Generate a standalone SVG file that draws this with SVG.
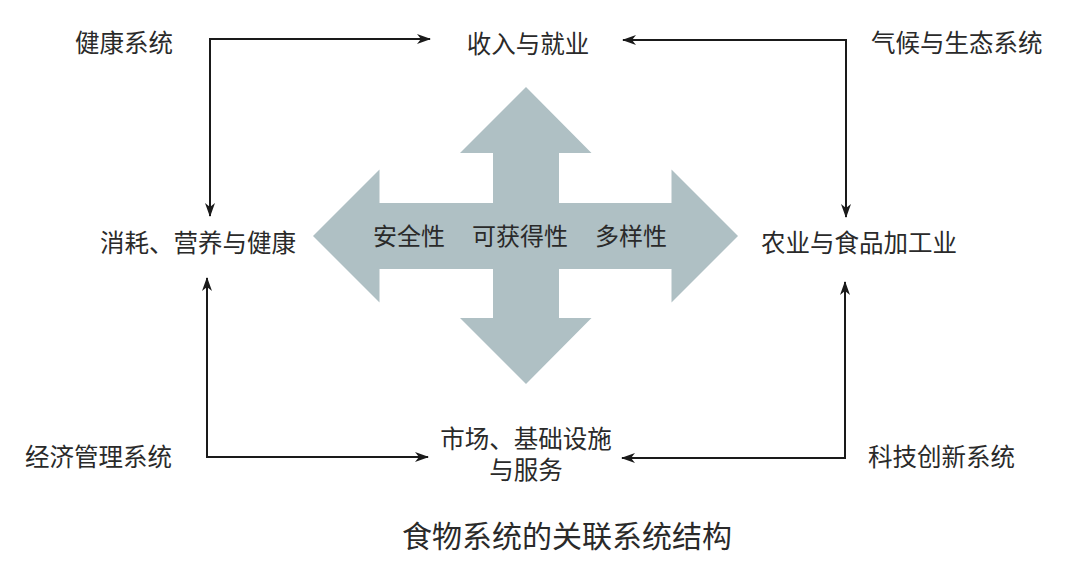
<svg xmlns="http://www.w3.org/2000/svg" width="1080" height="568" viewBox="0 0 1080 568">
<style>
text{font-family:"Noto Sans CJK SC","Noto Sans",sans-serif;font-size:24.5px;fill:#2a2a2a}
.m{text-anchor:middle}
.conn{fill:none;stroke:#1a1a1a;stroke-width:2}
</style>
<defs>
<marker id="ah" viewBox="0 0 14 10" refX="13" refY="5" markerWidth="14" markerHeight="10" markerUnits="userSpaceOnUse" orient="auto-start-reverse">
<path d="M0,0 L14,5 L0,10 L4,5 z" fill="#1a1a1a"/>
</marker>
</defs>
<rect width="1080" height="568" fill="#ffffff"/>
<g id="cross">
<polygon fill="#afc0c4" points="526,87 591.5,153 559,153 559,203 671.5,203 671.5,169.5 738,236 671.5,302.5 671.5,269 559,269 559,318 591.5,318 526,384 460,318 493,318 493,269 379.5,269 379.5,302.5 313,236 379.5,169.5 379.5,203 493,203 493,153 460,153"/>
<text x="409" y="245" class="m" style="font-size:24px">安全性</text>
<text x="520" y="245" class="m" style="font-size:24px">可获得性</text>
<text x="631" y="245" class="m" style="font-size:24px">多样性</text>
</g>
<g id="connectors">
<path class="conn" d="M430,39 H210 V216" marker-start="url(#ah)" marker-end="url(#ah)"/>
<path class="conn" d="M623,40 H846 V217" marker-start="url(#ah)" marker-end="url(#ah)"/>
<path class="conn" d="M207,278 V457 H428" marker-start="url(#ah)" marker-end="url(#ah)"/>
<path class="conn" d="M845,282 V458 H622" marker-start="url(#ah)" marker-end="url(#ah)"/>
</g>
<g id="n-health"><text x="75" y="52">健康系统</text></g>
<g id="n-income"><text x="528" y="53" class="m">收入与就业</text></g>
<g id="n-climate"><text x="871" y="52">气候与生态系统</text></g>
<g id="n-consume"><text x="100" y="252">消耗、营养与健康</text></g>
<g id="n-agri"><text x="761" y="252">农业与食品加工业</text></g>
<g id="n-econ"><text x="25" y="466">经济管理系统</text></g>
<g id="n-market"><text class="m" x="526" y="448"><tspan x="526" y="448">市场、基础设施</tspan><tspan x="526" y="479">与服务</tspan></text></g>
<g id="n-tech"><text x="868" y="466">科技创新系统</text></g>
<g id="title"><text x="567" y="547" class="m" style="font-size:30px">食物系统的关联系统结构</text></g>
</svg>
